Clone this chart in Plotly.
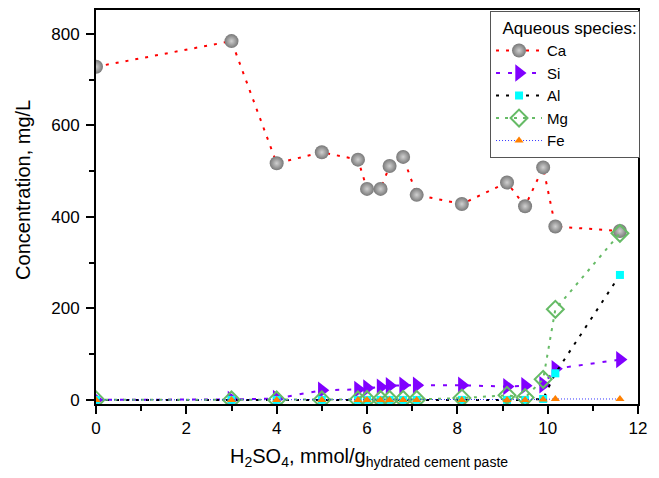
import plotly.graph_objects as go

x = [0, 3, 4, 5, 5.8, 6, 6.3, 6.5, 6.8, 7.1, 8.1, 9.1, 9.5, 9.9, 10.17, 11.6]
ca = [728, 784, 517, 541, 525, 461, 461, 511, 531, 448, 428, 475, 423, 508, 379, 369]
si = [0, 1, 3, 21, 23, 26, 28, 31, 32, 32, 32, 29, 31, 33, 68, 88]
al = [0, 0, 0, 0, 0, 0, 0, 0, 0, 0, 0, 0, 0, 2, 58, 273]
mg = [0, 0, 0, 0, 0, 1, 1, 1, 1, 1, 4, 10, 5, 45, 198, 364]
fe = [0, 0, 0, 0, 0, 0, 0, 0, 0, 0, 0, 0, 0, 1, 2, 2]

x_title = "H<sub>2</sub>SO<sub>4</sub>, mmol/g<sub>hydrated cement paste</sub>"
y_title = "Concentration, mg/L"

font = "Arial, Liberation Sans, sans-serif"
fig = go.Figure()

fig.add_trace(go.Scatter(
    x=x, y=ca, name="Ca", mode="lines+markers",
    line=dict(color="red", dash="3px,7px", width=2),
    marker=dict(symbol="circle", size=14, color="#787878",
                gradient=dict(type="radial", color="#d0d0d0"),
                line=dict(width=0))))
fig.add_trace(go.Scatter(
    x=x, y=si, name="Si", mode="lines+markers",
    line=dict(color="#8000ff", dash="4px,8px", width=2),
    marker=dict(symbol="triangle-right", size=15, color="#8000ff", line=dict(width=0))))
fig.add_trace(go.Scatter(
    x=x, y=al, name="Al", mode="lines+markers",
    line=dict(color="black", dash="3px,7px", width=2),
    marker=dict(symbol="square", size=8, color="cyan", line=dict(width=0))))
fig.add_trace(go.Scatter(
    x=x, y=mg, name="Mg", mode="lines+markers",
    line=dict(color="#66bb66", dash="3px,6px", width=2),
    marker=dict(symbol="diamond-open", size=13, color="#66bb66", line=dict(width=2))))
fig.add_trace(go.Scatter(
    x=x, y=fe, name="Fe", mode="lines+markers",
    line=dict(color="#3333ff", dash="1px,2px", width=1),
    marker=dict(symbol="triangle-up", size=8, color="#ff8000", line=dict(width=0))))

axis_common = dict(
    showline=True, linecolor="black", linewidth=2, mirror=True,
    ticks="outside", ticklen=8, tickwidth=1.5, tickcolor="black",
    showgrid=False, zeroline=False,
    tickfont=dict(family=font, size=17, color="black"),
)

fig.update_xaxes(range=[0, 12], dtick=2,
                 minor=dict(ticks="outside", dtick=1, ticklen=5, tickcolor="black", tickwidth=1.5),
                 ticklabelstandoff=0,
                 **axis_common)
fig.update_yaxes(range=[-9, 852], dtick=200,
                 minor=dict(ticks="outside", dtick=100, ticklen=5, tickcolor="black", tickwidth=1.5),
                 ticklabelstandoff=3,
                 **axis_common)

fig.add_annotation(text=x_title, xref="paper", yref="paper",
                   x=0.504, y=-0.100, xanchor="center", yanchor="top",
                   showarrow=False, font=dict(family=font, size=20, color="black"))
fig.add_annotation(text=y_title, xref="paper", yref="paper", textangle=-90,
                   x=-0.135, y=0.543, xanchor="center", yanchor="middle",
                   showarrow=False, font=dict(family=font, size=20, color="black"))

fig.update_layout(
    width=651, height=470,
    margin=dict(l=88, r=21, t=0, b=74),
    plot_bgcolor="white", paper_bgcolor="white",
    font=dict(family=font, color="black"),
    legend=dict(
        title=dict(text="\u00a0\u00a0Aqueous species:", font=dict(family=font, size=17)),
        font=dict(family=font, size=15, color="black"),
        x=0.727, y=0.997, xanchor="left", yanchor="top",
        bordercolor="#555555", borderwidth=1, bgcolor="white",
        tracegroupgap=0, itemwidth=46,
    ),
)

fig.write_html("out.html")
